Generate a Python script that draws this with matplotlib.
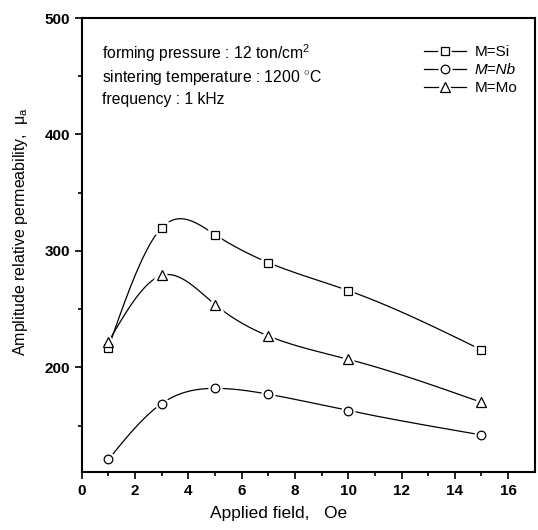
import numpy as np
import matplotlib
matplotlib.use("Agg")
import matplotlib.pyplot as plt
from matplotlib.lines import Line2D
from matplotlib.legend_handler import HandlerTuple

plt.rcParams['font.family'] = ['Liberation Sans', 'DejaVu Sans']
plt.rcParams['mathtext.fontset'] = 'custom'
plt.rcParams['mathtext.rm'] = 'Liberation Sans'
plt.rcParams['mathtext.it'] = 'Liberation Sans:italic'

# Data
field = [1, 3, 5, 7, 10, 15]
mu_si = [217, 320, 314, 290, 266, 215]
mu_nb = [121, 169, 182, 177, 163, 142]
mu_mo = [222, 279, 254, 227, 207, 170]


def smooth(x, y, n=300):
    # natural cubic spline through the points (just for drawing the line)
    x = np.asarray(x, float)
    y = np.asarray(y, float)
    k = len(x)
    h = np.diff(x)
    A = np.zeros((k, k))
    b = np.zeros(k)
    A[0, 0] = A[-1, -1] = 1
    for i in range(1, k - 1):
        A[i, i - 1] = h[i - 1]
        A[i, i] = 2 * (h[i - 1] + h[i])
        A[i, i + 1] = h[i]
        b[i] = 6 * ((y[i + 1] - y[i]) / h[i] - (y[i] - y[i - 1]) / h[i - 1])
    M = np.linalg.solve(A, b)
    xs = np.linspace(x[0], x[-1], n)
    idx = np.clip(np.searchsorted(x, xs) - 1, 0, k - 2)
    x0, x1 = x[idx], x[idx + 1]
    hh = x1 - x0
    t0, t1 = x1 - xs, xs - x0
    ys = (M[idx] * t0**3 + M[idx + 1] * t1**3) / (6 * hh) \
        + (y[idx] / hh - M[idx] * hh / 6) * t0 \
        + (y[idx + 1] / hh - M[idx + 1] * hh / 6) * t1
    return xs, ys


fig = plt.figure(figsize=(5.38, 5.30), dpi=100)
ax = fig.add_axes([0.152, 0.109, 0.842, 0.857])

series = [(mu_si, 's', 5.5, 'M=Si'), (mu_nb, 'o', 6.2, 'M=Nb'), (mu_mo, '^', 6.5, 'M=Mo')]
handles = []
for vals, mk, sz, lab in series:
    xs, ys = smooth(field, vals)
    ax.plot(xs, ys, color='black', lw=0.9, zorder=2)
    # white halo so the curve stops short of the markers
    ax.plot(field, vals, linestyle='none', marker=mk, ms=sz, mfc='white',
            mec='white', mew=4, zorder=3)
    ax.plot(field, vals, linestyle='none', marker=mk, ms=sz, mfc='white',
            mec='black', mew=0.9, zorder=4)
    h_line = Line2D([], [], color='black', lw=0.9)
    h_halo = Line2D([], [], linestyle='none', marker=mk, ms=sz, mfc='white',
                    mec='white', mew=4)
    h_mark = Line2D([], [], linestyle='none', marker=mk, ms=sz, mfc='white',
                    mec='black', mew=0.9)
    handles.append((h_line, h_halo, h_mark))

ax.set_xlim(0, 17)
ax.set_ylim(110, 500)
ax.set_xticks(range(0, 17, 2))
ax.set_xticks(range(1, 17, 2), minor=True)
ax.set_yticks([200, 300, 400, 500])
ax.set_yticks([150, 250, 350, 450], minor=True)
ax.tick_params(which='both', direction='out', top=False, right=False,
               labelsize=11, width=1.2)
ax.tick_params(which='major', length=5)
ax.tick_params(which='minor', length=3)
for t in ax.get_xticklabels() + ax.get_yticklabels():
    t.set_fontweight('bold')
for s in ax.spines.values():
    s.set_linewidth(1.5)

ax.set_xlabel('Applied field,   Oe', fontsize=12.5)
ax.xaxis.set_label_coords(0.435, -0.075)
ax.set_ylabel('Amplitude relative permeability,  μ$_\\mathrm{a}$', fontsize=11.5)
ax.yaxis.set_label_coords(-0.115, 0.53)

ax.text(0.044, 0.923, 'forming pressure : 12 ton/cm$^2$', transform=ax.transAxes,
        fontsize=11.3, va='center')
ax.text(0.044, 0.868, 'sintering temperature : 1200 $^{\\circ}$C',
        transform=ax.transAxes, fontsize=11.3, va='center')
ax.text(0.044, 0.82, 'frequency : 1 kHz', transform=ax.transAxes,
        fontsize=11.3, va='center')

leg = ax.legend(handles, [s[3] for s in series],
                handler_map={tuple: HandlerTuple(ndivide=1)},
                loc='upper right', bbox_to_anchor=(0.962, 0.94),
                frameon=False, fontsize=11, handlelength=2.8,
                handletextpad=0.55, labelspacing=0.25, borderpad=0,
                borderaxespad=0)
leg.get_texts()[1].set_fontstyle('italic')

fig.savefig('out.png', dpi=100)
